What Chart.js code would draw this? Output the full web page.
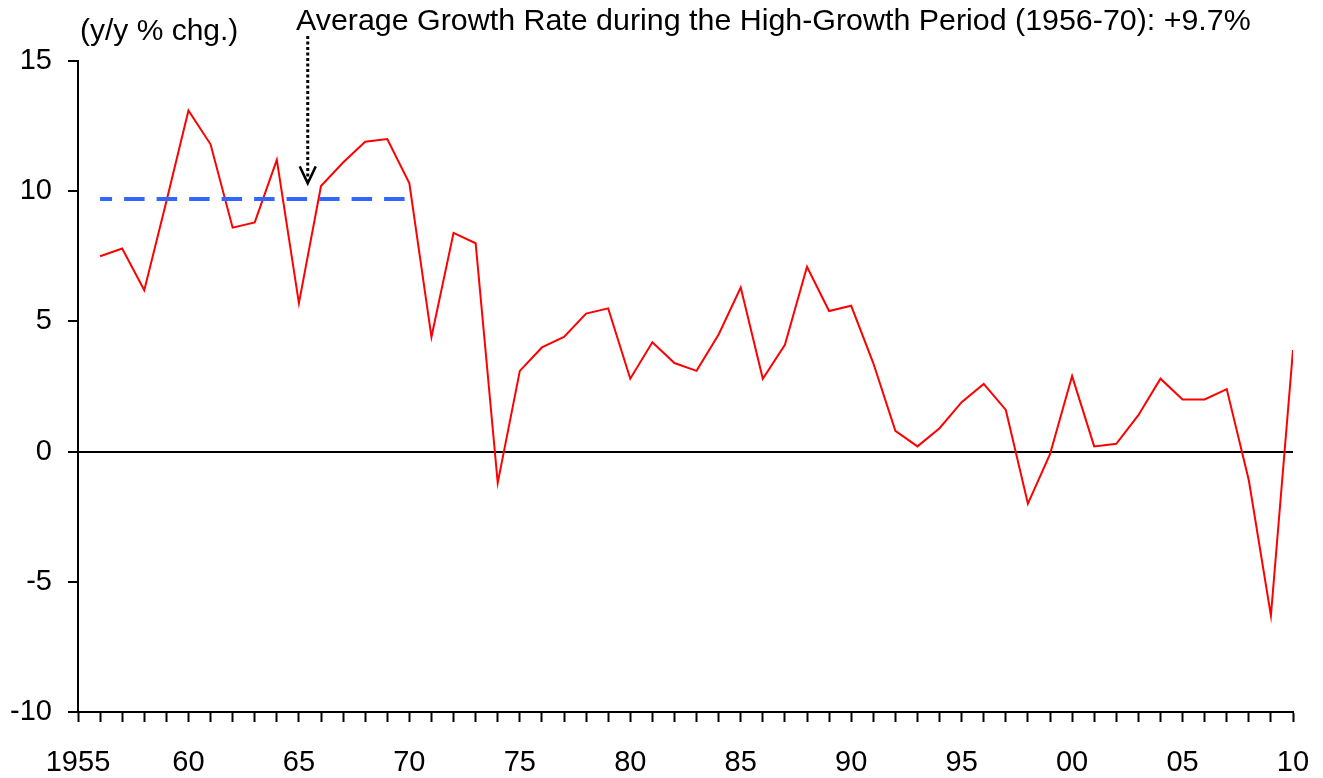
<!DOCTYPE html>
<html>
<head>
<meta charset="utf-8">
<script src="https://cdn.jsdelivr.net/npm/chart.js@4.4.1/dist/chart.umd.min.js"></script>
<style>
  html, body { margin: 0; padding: 0; background: #fff; }
  #wrap { position: relative; width: 1323px; height: 778px; }
</style>
</head>
<body>
<div id="wrap"><canvas id="c"></canvas></div>
<script>
// ---- data ----
const years = [1956,1957,1958,1959,1960,1961,1962,1963,1964,1965,
               1966,1967,1968,1969,1970,1971,1972,1973,1974,1975,
               1976,1977,1978,1979,1980,1981,1982,1983,1984,1985,
               1986,1987,1988,1989,1990,1991,1992,1993,1994,1995,
               1996,1997,1998,1999,2000,2001,2002,2003,2004,2005,
               2006,2007,2008,2009,2010];
const growth = [7.5, 7.8, 6.2, 9.6, 13.1, 11.8, 8.6, 8.8, 11.2, 5.7,
                10.2, 11.1, 11.9, 12.0, 10.3, 4.4, 8.4, 8.0, -1.2, 3.1,
                4.0, 4.4, 5.3, 5.5, 2.8, 4.2, 3.4, 3.1, 4.5, 6.3,
                2.8, 4.1, 7.1, 5.4, 5.6, 3.4, 0.8, 0.2, 0.9, 1.9,
                2.6, 1.6, -2.0, -0.1, 2.9, 0.2, 0.3, 1.4, 2.8, 2.0,
                2.0, 2.4, -1.1, -6.3, 3.9];
const avgStartYear = 1956;
const avgEndYear = 1970;
const avgValue = 9.7;
const xLabelYears = [1955,1960,1965,1970,1975,1980,1985,1990,1995,2000,2005,2010];
const xLabelTexts = ['1955','60','65','70','75','80','85','90','95','00','05','10'];
const yMin = -10, yMax = 15, yStep = 5;
const unitLabel = '(y/y % chg.)';
const noteText = 'Average Growth Rate during the High-Growth Period (1956-70): +9.7%';
const arrowYear = 1965.4;   // where the annotation arrow points
const arrowTipValue = 10.3;

const FONT = "'Liberation Sans', Arial, Helvetica, sans-serif";

const growthPts = years.map((y, i) => ({ x: y, y: growth[i] }));
const avgPts = [{ x: avgStartYear, y: avgValue }, { x: avgEndYear, y: avgValue }];

const notePlugin = {
  id: 'notes',
  afterDraw(chart) {
    const ctx = chart.ctx;
    const xs = chart.scales.x, ys = chart.scales.y;
    ctx.save();
    ctx.fillStyle = '#000';
    ctx.textBaseline = 'alphabetic';
    ctx.textAlign = 'left';
    ctx.font = '30px ' + FONT;
    ctx.fillText(unitLabel, 80, 40);
    ctx.font = '30.4px ' + FONT;
    ctx.fillText(noteText, 296, 30);

    // dotted arrow
    const ax = xs.getPixelForValue(arrowYear);
    const tipY = ys.getPixelForValue(arrowTipValue);
    ctx.strokeStyle = '#000';
    ctx.lineWidth = 3;
    ctx.setLineDash([3, 2.5]);
    ctx.beginPath();
    ctx.moveTo(ax, 36);
    ctx.lineTo(ax, tipY - 4);
    ctx.stroke();
    ctx.setLineDash([]);
    ctx.lineWidth = 2.5;
    ctx.beginPath();
    ctx.moveTo(ax - 8, tipY - 17);
    ctx.lineTo(ax, tipY);
    ctx.lineTo(ax + 8, tipY - 17);
    ctx.stroke();
    ctx.restore();
  }
};

new Chart(document.getElementById('c'), {
  type: 'line',
  data: {
    datasets: [
      {
        data: growthPts,
        borderColor: '#ff0000',
        borderWidth: 2,
        pointRadius: 0,
        tension: 0,
        fill: false,
        order: 1
      },
      {
        data: avgPts,
        borderColor: '#3366ff',
        borderWidth: 4,
        borderDash: [20.5, 12],
        borderDashOffset: 8.5,
        pointRadius: 0,
        tension: 0,
        fill: false,
        order: 0
      }
    ]
  },
  options: {
    responsive: true,
    maintainAspectRatio: false,
    animation: false,
    events: [],
    layout: { padding: { top: 61, right: 30, left: 0, bottom: 0 } },
    plugins: { legend: { display: false }, tooltip: { enabled: false }, title: { display: false } },
    scales: {
      x: {
        type: 'linear',
        min: 1955,
        max: 2010,
        afterFit(s) { s.height = 66; s.paddingLeft = 0; s.paddingRight = 0; },
        border: { display: true, color: '#000', width: 2 },
        grid: { drawOnChartArea: false, drawTicks: true, tickLength: 10, tickColor: '#000', tickWidth: 2, color: '#000' },
        ticks: {
          stepSize: 1,
          autoSkip: false,
          maxRotation: 0,
          padding: 24,
          color: '#000',
          font: { family: FONT, size: 29 },
          callback(v) {
            const i = xLabelYears.indexOf(Math.round(v));
            return (i >= 0 && Math.abs(v - Math.round(v)) < 1e-6) ? xLabelTexts[i] : '';
          }
        }
      },
      y: {
        min: yMin,
        max: yMax,
        afterFit(s) { s.width = 78; s.paddingTop = 0; s.paddingBottom = 0; },
        border: { display: true, color: '#000', width: 2 },
        grid: {
          drawOnChartArea: true,
          drawTicks: true,
          tickLength: 10,
          tickColor: '#000',
          tickWidth: 2,
          lineWidth: 2,
          color(c) { return (c.tick && c.tick.value === 0) ? '#000' : 'rgba(0,0,0,0)'; }
        },
        ticks: {
          stepSize: yStep,
          padding: 16,
          color: '#000',
          font: { family: FONT, size: 29 }
        }
      }
    }
  },
  plugins: [notePlugin]
});
</script>
</body>
</html>
